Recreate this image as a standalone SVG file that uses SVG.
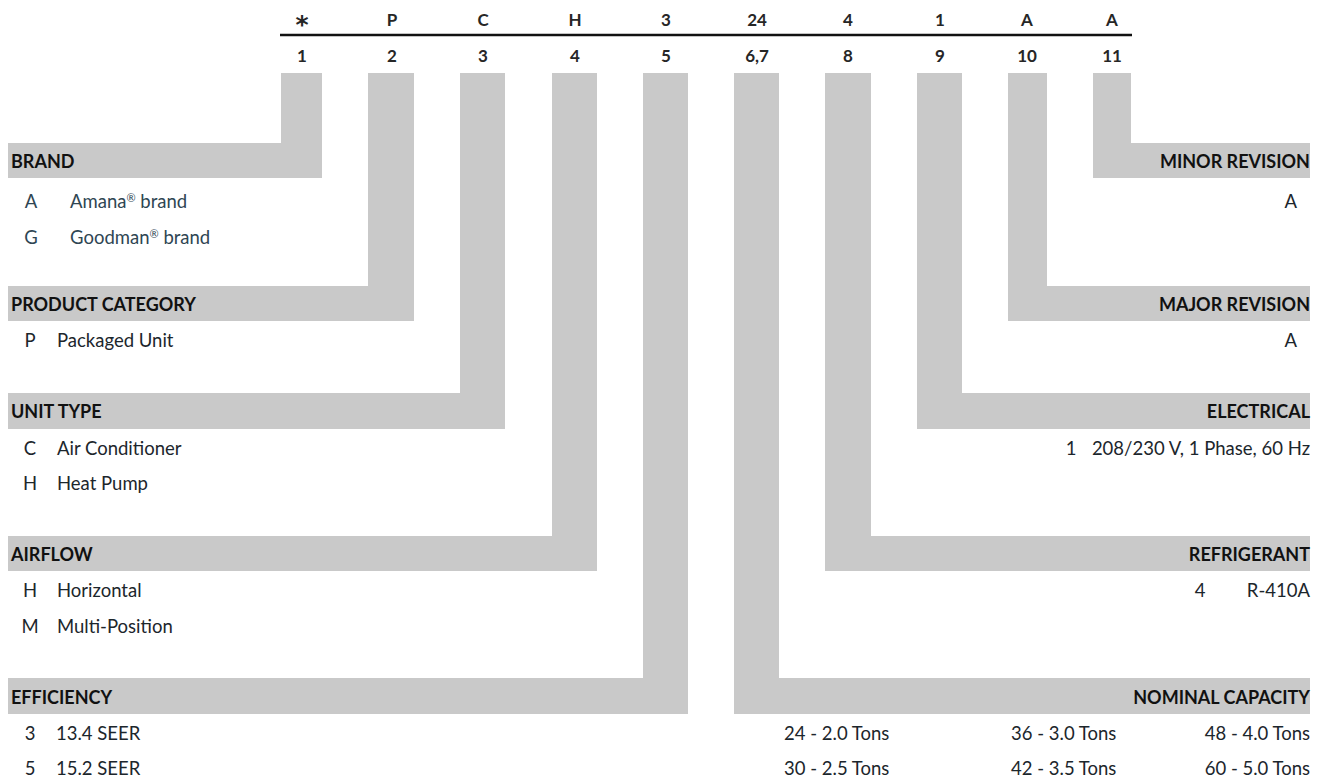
<svg xmlns="http://www.w3.org/2000/svg" width="1325" height="781" viewBox="0 0 1325 781">
<style>
  .bar { fill: #c9c9c9; }
  .code { font-family: Lato, "Liberation Sans", sans-serif; font-weight: 700; font-size: 17px; fill: #262626; text-anchor: middle; }
  .hdr { font-family: Lato, "Liberation Sans", sans-serif; font-weight: 700; font-size: 18px; fill: #111; }
  .hdrR { font-family: Lato, "Liberation Sans", sans-serif; font-weight: 700; font-size: 18px; fill: #111; text-anchor: end; }
  .itm { font-family: Lato, "Liberation Sans", sans-serif; font-size: 18.5px; fill: #1c262c; }
  .lt { font-family: Lato, "Liberation Sans", sans-serif; font-size: 18.5px; fill: #2f4653; }
  .key { font-family: Lato, "Liberation Sans", sans-serif; font-size: 18.5px; fill: #1c262c; text-anchor: middle; }
  .itmR { font-family: Lato, "Liberation Sans", sans-serif; font-size: 18.5px; fill: #1c262c; text-anchor: end; }
  .reg { font-size: 11px; }
</style>
<rect width="1325" height="781" fill="#ffffff"/>

<g id="connectors">
  <path class="bar" d="M281,73 H322 V178 H8 V143 H281 Z"/>
  <path class="bar" d="M368,73 H414 V321 H8 V286 H368 Z"/>
  <path class="bar" d="M460,73 H505 V429 H8 V393 H460 Z"/>
  <path class="bar" d="M552,73 H597 V571 H8 V536 H552 Z"/>
  <path class="bar" d="M643,73 H688 V714 H8 V678 H643 Z"/>
  <path class="bar" d="M734,73 H779 V678 H1310 V714 H734 Z"/>
  <path class="bar" d="M825,73 H871 V536 H1310 V571 H825 Z"/>
  <path class="bar" d="M917,73 H962 V393 H1310 V429 H917 Z"/>
  <path class="bar" d="M1008,73 H1047 V286 H1310 V321 H1008 Z"/>
  <path class="bar" d="M1093,73 H1131 V143 H1310 V178 H1093 Z"/>
</g>

<g id="model-code">
  <line x1="280" y1="35" x2="1132" y2="35" stroke="#111" stroke-width="2.5"/>
  <text class="code" x="302" y="33" style="font-family:'DejaVu Sans',sans-serif;font-size:25px">*</text>
  <text class="code" x="392" y="26">P</text>
  <text class="code" x="483" y="26">C</text>
  <text class="code" x="575" y="26">H</text>
  <text class="code" x="666" y="26">3</text>
  <text class="code" x="757" y="26">24</text>
  <text class="code" x="848" y="26">4</text>
  <text class="code" x="940" y="26">1</text>
  <text class="code" x="1027" y="26">A</text>
  <text class="code" x="1112" y="26">A</text>
  <text class="code" x="302" y="62">1</text>
  <text class="code" x="392" y="62">2</text>
  <text class="code" x="483" y="62">3</text>
  <text class="code" x="575" y="62">4</text>
  <text class="code" x="666" y="62">5</text>
  <text class="code" x="757" y="62">6,7</text>
  <text class="code" x="848" y="62">8</text>
  <text class="code" x="940" y="62">9</text>
  <text class="code" x="1027" y="62">10</text>
  <text class="code" x="1112" y="62">11</text>
</g>

<g id="brand">
  <text class="hdr" x="11" y="168">BRAND</text>
  <text class="lt" x="31" y="208" text-anchor="middle">A</text>
  <text class="lt" x="70" y="208">Amana<tspan class="reg" dy="-6">®</tspan><tspan dy="6"> brand</tspan></text>
  <text class="lt" x="31" y="244" text-anchor="middle">G</text>
  <text class="lt" x="70" y="244">Goodman<tspan class="reg" dy="-6">®</tspan><tspan dy="6"> brand</tspan></text>
</g>

<g id="product-category">
  <text class="hdr" x="11" y="311">PRODUCT CATEGORY</text>
  <text class="key" x="30" y="347">P</text>
  <text class="itm" x="57" y="347">Packaged Unit</text>
</g>

<g id="unit-type">
  <text class="hdr" x="11" y="418">UNIT TYPE</text>
  <text class="key" x="30" y="455">C</text>
  <text class="itm" x="57" y="455">Air Conditioner</text>
  <text class="key" x="30" y="490">H</text>
  <text class="itm" x="57" y="490">Heat Pump</text>
</g>

<g id="airflow">
  <text class="hdr" x="11" y="561">AIRFLOW</text>
  <text class="key" x="30" y="597">H</text>
  <text class="itm" x="57" y="597">Horizontal</text>
  <text class="key" x="30" y="633">M</text>
  <text class="itm" x="57" y="633">Multi-Position</text>
</g>

<g id="efficiency">
  <text class="hdr" x="11" y="704">EFFICIENCY</text>
  <text class="key" x="30" y="740">3</text>
  <text class="itm" x="56" y="740">13.4 SEER</text>
  <text class="key" x="30" y="775">5</text>
  <text class="itm" x="56" y="775">15.2 SEER</text>
</g>

<g id="minor-revision">
  <text class="hdrR" x="1310" y="168">MINOR REVISION</text>
  <text class="itmR" x="1297" y="208">A</text>
</g>

<g id="major-revision">
  <text class="hdrR" x="1310" y="311">MAJOR REVISION</text>
  <text class="itmR" x="1297" y="347">A</text>
</g>

<g id="electrical">
  <text class="hdrR" x="1310" y="418">ELECTRICAL</text>
  <text class="key" x="1071" y="455">1</text>
  <text class="itmR" x="1310" y="455">208/230 V, 1 Phase, 60 Hz</text>
</g>

<g id="refrigerant">
  <text class="hdrR" x="1310" y="561">REFRIGERANT</text>
  <text class="key" x="1200" y="597">4</text>
  <text class="itmR" x="1310" y="597">R-410A</text>
</g>

<g id="nominal-capacity">
  <text class="hdrR" x="1310" y="704">NOMINAL CAPACITY</text>
  <text class="itm" x="784" y="740">24 - 2.0 Tons</text>
  <text class="itm" x="784" y="775">30 - 2.5 Tons</text>
  <text class="itm" x="1011" y="740">36 - 3.0 Tons</text>
  <text class="itm" x="1011" y="775">42 - 3.5 Tons</text>
  <text class="itmR" x="1310" y="740">48 - 4.0 Tons</text>
  <text class="itmR" x="1310" y="775">60 - 5.0 Tons</text>
</g>
</svg>
